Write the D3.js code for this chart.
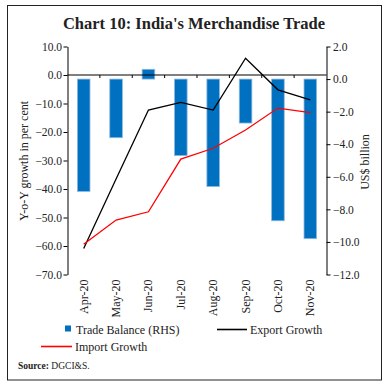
<!DOCTYPE html>
<html><head><meta charset="utf-8">
<script src="https://cdn.jsdelivr.net/npm/d3@7"></script>
<style>body{margin:0;background:#fff}svg{display:block}text{font-family:"Liberation Serif","DejaVu Serif",serif;fill:#222}</style>
</head><body><svg id="c" width="388" height="387"></svg>
<script>
const categories = ["Apr-20","May-20","Jun-20","Jul-20","Aug-20","Sep-20","Oct-20","Nov-20"];
const tradeBalance = [-6.9, -3.6, 0.6, -4.7, -6.6, -2.7, -8.7, -9.8];
const exportGrowth = [-60.9, -36.5, -12.3, -9.6, -12.3, 5.9, -5.2, -8.7];
const importGrowth = [-59.4, -50.9, -48.0, -29.5, -25.7, -19.3, -11.6, -13.2];
const leftTicks = [10,0,-10,-20,-30,-40,-50,-60,-70];
const rightTicks = [2,0,-2,-4,-6,-8,-10,-12];

const svg = d3.select("#c");
svg.append("rect").attr("x",7.5).attr("y",5.5).attr("width",374).attr("height",374.5)
  .attr("fill","none").attr("stroke","#222").attr("stroke-width",1);
svg.append("text").attr("x",194).attr("y",29).attr("text-anchor","middle")
  .style("font-size","16.5px").style("font-weight","bold").text("Chart 10: India's Merchandise Trade");

const L = 67.5, R = 326.5, T = 46.5, B = 274.5;
const x = d3.scaleBand().domain(categories).range([L,R]).paddingInner(0.6).paddingOuter(0.3);
const xc = d => x(d) + x.bandwidth()/2;
const yl = d3.scaleLinear().domain([-70,10]).range([B,T]);
const yr = d3.scaleLinear().domain([-12,2]).range([B,T]);

// bars
svg.append("g").selectAll("rect").data(categories).join("rect")
  .attr("x",d=>xc(d)-6.3).attr("width",12.6)
  .attr("y",(d,i)=>yr(Math.max(0,tradeBalance[i])))
  .attr("height",(d,i)=>Math.abs(yr(tradeBalance[i])-yr(0)))
  .attr("fill","#0070C0").attr("stroke","#8fb8e0").attr("stroke-width",0.8);

// zero line with ticks at band boundaries
const xb = d3.scaleLinear().domain([0,8]).range([L,R]);
svg.append("line").attr("x1",L).attr("x2",R).attr("y1",yl(0)).attr("y2",yl(0)).attr("stroke","#000").attr("stroke-width",1.2);
svg.append("g").selectAll("line").data(d3.range(1,8)).join("line")
  .attr("x1",d=>xb(d)).attr("x2",d=>xb(d)).attr("y1",yl(0)).attr("y2",yl(0)+3).attr("stroke","#000");

// lines
const line = d3.line().x((d,i)=>xc(categories[i])).y(d=>yl(d));
svg.append("path").datum(exportGrowth).attr("d",line).attr("fill","none").attr("stroke","#000").attr("stroke-width",1.3);
svg.append("path").datum(importGrowth).attr("d",line).attr("fill","none").attr("stroke","#ff0000").attr("stroke-width",1.3);

// axes
const fmt = d3.format(".1f");
const la = svg.append("g").attr("transform",`translate(${L},0)`)
  .call(d3.axisLeft(yl).tickValues(leftTicks).tickFormat(fmt).tickSize(4).tickSizeOuter(0));
const ra = svg.append("g").attr("transform",`translate(${R},0)`)
  .call(d3.axisRight(yr).tickValues(rightTicks).tickFormat(fmt).tickSize(4).tickSizeOuter(0));
[la,ra].forEach(g=>{
  g.select(".domain").attr("stroke","#000");
  g.selectAll(".tick line").attr("stroke","#000");
  g.selectAll("text").style("font-size","11.5px").attr("fill","#222").style("font-family",'"Liberation Serif",serif');
});
la.selectAll("text").attr("x",-5.5);
ra.selectAll("text").attr("x",6.5);

// category labels
svg.append("g").selectAll("text").data(categories).join("text")
  .attr("transform",d=>`translate(${xc(d)+4},${B+5}) rotate(-90)`)
  .attr("text-anchor","end").style("font-size","12px").text(d=>d);

// axis titles
svg.append("text").attr("transform","translate(28,161) rotate(-90)").attr("text-anchor","middle")
  .style("font-size","12px").text("Y-o-Y growth in per cent");
svg.append("text").attr("transform","translate(369,162) rotate(-90)").attr("text-anchor","middle")
  .style("font-size","12px").text("US$ billion");

// legend
svg.append("rect").attr("x",65).attr("y",325.5).attr("width",6).attr("height",6).attr("fill","#0070C0");
svg.append("text").attr("x",76).attr("y",333.5).style("font-size","12px").text("Trade Balance (RHS)");
svg.append("line").attr("x1",217).attr("x2",247).attr("y1",329.5).attr("y2",329.5).attr("stroke","#000").attr("stroke-width",1.6);
svg.append("text").attr("x",250).attr("y",333.5).style("font-size","12px").text("Export Growth");
svg.append("line").attr("x1",41).attr("x2",72).attr("y1",346.5).attr("y2",346.5).attr("stroke","#ff0000").attr("stroke-width",1.6);
svg.append("text").attr("x",75).attr("y",350.5).style("font-size","12px").text("Import Growth");

const src = svg.append("text").attr("x",18).attr("y",369).style("font-size","9.5px");
src.append("tspan").style("font-weight","bold").text("Source: ");
src.append("tspan").text("DGCI&S.");
</script></body></html>
